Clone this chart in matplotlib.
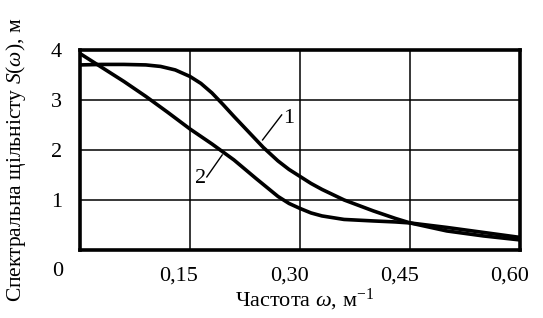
import matplotlib
matplotlib.use("Agg")
import matplotlib.pyplot as plt
from matplotlib.transforms import ScaledTranslation

plt.rcParams['font.family'] = ['Liberation Serif', 'DejaVu Serif']
plt.rcParams['mathtext.fontset'] = 'custom'
plt.rcParams['mathtext.rm'] = 'Liberation Serif'
plt.rcParams['mathtext.it'] = 'Liberation Serif:italic'

# Curve 1
x1 = [0, 0.03, 0.06, 0.09, 0.11, 0.13, 0.15, 0.165, 0.18, 0.195, 0.21, 0.23,
      0.25, 0.27, 0.285, 0.30, 0.315, 0.33, 0.36, 0.40, 0.43, 0.45, 0.50,
      0.55, 0.60]
y1 = [3.70, 3.71, 3.71, 3.70, 3.67, 3.60, 3.47, 3.33, 3.14, 2.91, 2.67, 2.36,
      2.05, 1.78, 1.61, 1.47, 1.33, 1.21, 1.00, 0.78, 0.63, 0.54, 0.38,
      0.28, 0.20]
# Curve 2
x2 = [0, 0.03, 0.06, 0.09, 0.12, 0.15, 0.18, 0.21, 0.24, 0.27, 0.285, 0.30,
      0.315, 0.33, 0.36, 0.40, 0.43, 0.45, 0.50, 0.55, 0.60]
y2 = [3.93, 3.65, 3.37, 3.07, 2.75, 2.42, 2.12, 1.80, 1.43, 1.07, 0.93, 0.83,
      0.74, 0.68, 0.61, 0.58, 0.56, 0.54, 0.45, 0.35, 0.25]

xticks = [0.15, 0.30, 0.45, 0.60]
xticklabels = ['0,15', '0,30', '0,45', '0,60']
yticks = [1, 2, 3, 4]
yticklabels = ['1', '2', '3', '4']

FS = 16

fig = plt.figure(figsize=(5.43, 3.18), dpi=100)
ax = fig.add_axes([0.147, 0.214, 0.811, 0.629])

ax.plot(x1, y1, color='black', lw=2.6, solid_capstyle='butt')
ax.plot(x2, y2, color='black', lw=2.6, solid_capstyle='butt')

ax.set_xlim(0, 0.60)
ax.set_ylim(0, 4)
ax.set_xticks(xticks)
ax.set_xticklabels(xticklabels)
ax.set_yticks(yticks)
ax.set_yticklabels(yticklabels)
ax.tick_params(length=0, labelsize=FS)
ax.tick_params(axis='x', pad=12)
ax.tick_params(axis='y', pad=13)
ax.grid(True, color='black', lw=1.1)

offset = ScaledTranslation(-11 / 100, 0, fig.dpi_scale_trans)
for lab in ax.get_xticklabels():
    lab.set_transform(lab.get_transform() + offset)

for s in ax.spines.values():
    s.set_linewidth(2.6)
    s.set_zorder(5)

# origin label
ax.text(-0.05, -0.11, '0', transform=ax.transAxes, fontsize=FS,
        ha='center', va='center')

# curve labels with leaders
ax.plot([0.249, 0.275], [2.2, 2.7], color='black', lw=1.0)
ax.text(0.277, 2.62, '1', fontsize=FS, ha='left', va='center')
ax.plot([0.173, 0.194], [1.46, 1.9], color='black', lw=1.0)
ax.text(0.172, 1.42, '2', fontsize=FS, ha='right', va='center')

ax.set_xlabel(r'Частота $\mathit{\omega}$, м$^{\mathregular{-1}}$', fontsize=FS)
ax.set_ylabel(r'Спектральна щільністу $S(\omega)$, м', fontsize=15.5)
ax.xaxis.set_label_coords(0.51, -0.185)
ax.yaxis.set_label_coords(-0.118, 0.45)

fig.savefig('out.png', dpi=100)
